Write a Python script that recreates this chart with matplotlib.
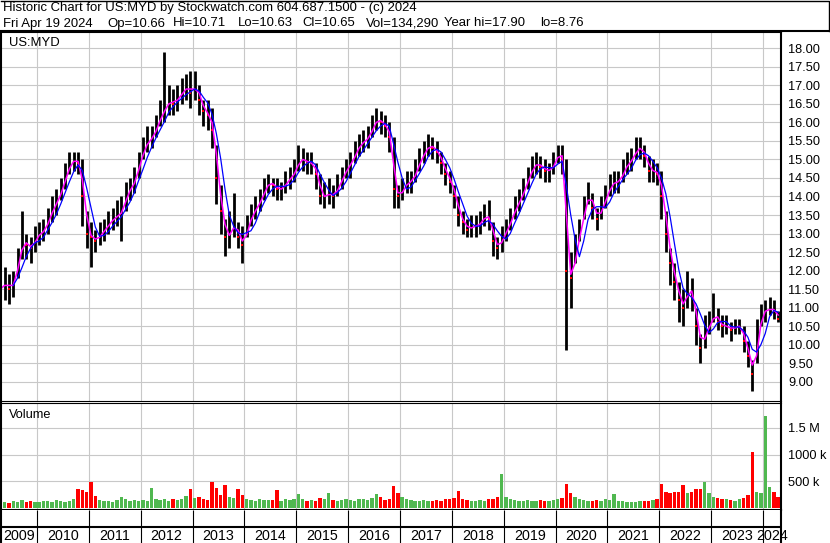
import matplotlib
matplotlib.use("Agg")
import matplotlib.pyplot as plt
import numpy as np
import pandas as pd

plt.rcParams['font.family'] = ['Liberation Sans', 'DejaVu Sans']

# monthly bars, Apr 2009 - Apr 2024
maaneder = pd.period_range('2009-04', '2024-04', freq='M')

close = [11.5, 11.7, 11.5, 11.7, 12.3, 12.8, 12.7, 12.6, 12.9,
         13.0, 13.1, 13.4, 13.7, 13.9, 14.2, 14.6, 14.9, 15.0, 14.9, 14.0, 13.0,
         12.9, 12.8, 13.0, 13.1, 13.3, 13.4, 13.5, 13.6, 14.1, 14.2, 14.5, 14.9,
         15.3, 15.5, 15.6, 15.9, 16.2, 16.4, 16.6, 16.5, 16.7, 16.8, 17.0, 16.8,
         17.0, 16.6, 16.3, 16.2, 15.8, 14.5, 13.6, 12.9, 13.0, 13.3, 12.9, 12.7,
         13.2, 13.5, 13.7, 13.9, 14.2, 14.4, 14.3, 14.2, 14.2, 14.4, 14.5, 14.7,
         15.0, 15.0, 14.9, 14.9, 14.6, 14.0, 14.0, 14.1, 14.0, 14.3, 14.5, 14.8,
         14.9, 15.2, 15.4, 15.5, 15.6, 15.9, 16.1, 16.0, 15.9, 15.6, 14.2, 14.0,
         14.2, 14.4, 14.4, 14.7, 15.0, 15.2, 15.4, 15.3, 15.2, 14.9, 14.6, 14.4,
         14.0, 13.5, 13.3, 13.1, 13.2, 13.2, 13.3, 13.5, 13.4, 12.8, 12.6, 12.9,
         13.1, 13.4, 13.7, 13.9, 14.2, 14.5, 14.8, 14.9, 14.8, 14.7, 14.7, 14.9,
         15.2, 15.0, 12.0, 11.8, 12.6, 13.1, 13.7, 14.1, 13.7, 13.4, 13.7, 14.0,
         14.3, 14.4, 14.4, 14.7, 14.9, 15.0, 15.3, 15.3, 15.1, 14.7, 14.7, 14.6,
         14.0, 13.0, 12.2, 11.7, 11.2, 11.0, 11.6, 11.3, 10.5, 9.9, 10.4, 10.5,
         10.9, 10.6, 10.5, 10.5, 10.4, 10.5, 10.5, 10.1, 9.7, 9.2, 10.2, 10.9,
         10.9, 11.0, 10.9, 10.7]

high = [11.9, 12.1, 11.9, 12.0, 12.6, 13.6, 13.0, 12.9, 13.2,
        13.3, 13.4, 13.7, 14.0, 14.2, 14.5, 14.9, 15.2, 15.2, 15.2, 15.0, 13.6,
        13.3, 13.1, 13.3, 13.4, 13.6, 13.7, 13.9, 14.0, 14.4, 14.5, 14.8, 15.2,
        15.6, 15.9, 15.9, 16.2, 16.6, 17.9, 17.0, 16.9, 17.0, 17.2, 17.3, 17.4,
        17.4, 17.0, 16.6, 16.6, 16.4, 15.4, 14.3, 13.4, 13.6, 14.1, 13.3, 13.2,
        13.5, 13.8, 14.0, 14.2, 14.5, 14.6, 14.5, 14.5, 14.4, 14.7, 14.8, 15.0,
        15.4, 15.3, 15.2, 15.2, 14.9, 14.6, 14.4, 14.5, 14.3, 14.6, 14.8, 15.0,
        15.2, 15.5, 15.7, 15.8, 15.9, 16.2, 16.4, 16.3, 16.2, 16.0, 15.6, 14.3,
        14.5, 14.7, 14.7, 15.0, 15.3, 15.5, 15.7, 15.6, 15.5, 15.2, 14.9, 14.7,
        14.3, 14.0, 13.6, 13.4, 13.5, 13.5, 13.6, 13.8, 13.9, 13.3, 12.9, 13.2,
        13.4, 13.7, 14.0, 14.2, 14.5, 14.8, 15.1, 15.2, 15.1, 15.0, 14.9, 15.2,
        15.4, 15.4, 15.0, 12.5, 13.0, 13.4, 14.0, 14.4, 14.1, 13.7, 14.0, 14.3,
        14.6, 14.7, 14.7, 15.0, 15.2, 15.3, 15.6, 15.6, 15.4, 15.1, 15.0, 14.9,
        14.7, 13.6, 12.6, 12.2, 11.7, 11.5, 12.0, 11.8, 11.0, 10.3, 10.8, 10.9,
        11.4, 11.0, 10.8, 10.8, 10.6, 10.7, 10.7, 10.5, 10.1, 9.6, 10.7, 11.1,
        11.2, 11.3, 11.2, 10.9]

low = [11.0, 11.2, 11.1, 11.3, 11.8, 12.3, 12.3, 12.2, 12.5,
       12.7, 12.8, 13.0, 13.3, 13.5, 13.9, 14.2, 14.6, 14.7, 14.6, 13.2, 12.6,
       12.1, 12.5, 12.7, 12.8, 13.0, 13.1, 13.2, 12.8, 13.6, 13.9, 14.1, 14.5,
       15.0, 15.2, 15.3, 15.6, 15.9, 16.0, 16.2, 16.2, 16.3, 16.5, 16.6, 16.4,
       16.6, 16.2, 15.9, 15.8, 15.3, 13.8, 13.0, 12.4, 12.6, 12.9, 12.6, 12.2,
       12.9, 13.2, 13.4, 13.6, 13.9, 14.1, 14.0, 13.9, 13.9, 14.1, 14.2, 14.4,
       14.7, 14.7, 14.6, 14.6, 14.2, 13.8, 13.7, 13.8, 13.7, 14.0, 14.2, 14.5,
       14.5, 14.9, 15.1, 15.2, 15.3, 15.6, 15.8, 15.7, 15.6, 15.2, 13.7, 13.7,
       13.9, 14.1, 14.1, 14.4, 14.7, 14.9, 15.1, 15.0, 14.9, 14.6, 14.3, 14.1,
       13.7, 13.2, 13.0, 12.9, 12.9, 12.9, 13.0, 13.2, 13.1, 12.4, 12.3, 12.5,
       12.8, 13.1, 13.4, 13.6, 13.9, 14.2, 14.5, 14.6, 14.5, 14.4, 14.4, 14.6,
       14.9, 14.6, 9.85, 11.0, 12.2, 12.8, 13.4, 13.8, 13.4, 13.1, 13.4, 13.7,
       14.0, 14.1, 14.1, 14.4, 14.6, 14.7, 15.0, 15.0, 14.8, 14.4, 14.4, 14.3,
       13.4, 12.5, 11.6, 11.2, 10.6, 10.5, 11.0, 10.9, 10.0, 9.5, 9.9, 10.3,
       10.6, 10.4, 10.2, 10.3, 10.1, 10.3, 10.3, 9.8, 9.4, 8.76, 9.5, 10.5,
       10.6, 10.8, 10.7, 10.6]

# volume in thousands
volum = [170, 120, 100, 130, 110, 150, 120, 130, 110,
         110, 140, 130, 120, 150, 130, 120, 140, 160, 360, 340, 300,
         490, 230, 150, 130, 140, 120, 150, 200, 160, 140, 150, 130,
         150, 140, 380, 160, 150, 170, 140, 160, 150, 170, 220, 360,
         180, 200, 170, 150, 490, 380, 250, 430, 200, 180, 360, 250,
         170, 150, 140, 160, 150, 150, 150, 340, 140, 160, 150, 170,
         260, 160, 140, 150, 130, 180, 160, 280, 150, 140, 150, 160,
         150, 140, 160, 170, 150, 180, 260, 200, 150, 170, 415, 280,
         200, 160, 150, 140, 130, 150, 140, 130, 150, 140, 160, 170,
         180, 320, 160, 150, 140, 130, 150, 140, 160, 170, 200, 640,
         200, 160, 150, 140, 130, 150, 140, 130, 150, 140, 130, 150,
         160, 180, 450, 290, 200, 160, 150, 140, 130, 150, 140, 160,
         150, 260, 140, 130, 120, 110, 120, 130, 140, 130, 150, 160,
         450, 300, 280, 300, 300, 440, 280, 300, 350, 350, 490, 280,
         200, 180, 170, 160, 150, 140, 160, 180, 250, 1040, 300, 280,
         1730, 400, 300, 200]

aar = list(range(2010, 2025))
aar_tekst = [str(a) for a in range(2009, 2025)]
pris_ticks = np.arange(9.0, 18.01, 0.5)
vol_ticks = [500, 1000, 1500]
vol_tekst = ['500 k', '1000 k', '1.5 M']

tittel1 = "Historic Chart for US:MYD by Stockwatch.com 604.687.1500 - (c) 2024"
felt2 = ["Fri Apr 19 2024", "Op=10.66", "Hi=10.71", "Lo=10.63", "Cl=10.65",
         "Vol=134,290", "Year hi=17.90", "lo=8.76"]
felt2_x = [3, 107, 173, 238, 302, 366, 444, 540]

W, H = 830, 543
x_fra, x_til = 2009.306, 2024.346


def boks(x0, y0, x1, y1):
    return [x0 / W, 1 - y1 / H, (x1 - x0) / W, (y1 - y0) / H]


t = np.array(maaneder.year + (maaneder.month - 0.5) / 12)
c = pd.Series(close)
ned = (c.diff() < 0).values
ma_kort = c.rolling(2, min_periods=1).mean()
ma_lang = c.rolling(4).mean()

fig = plt.figure(figsize=(W / 100, H / 100), dpi=100)
grid = '#c8c8c8'

# price panel
ax = fig.add_axes(boks(1, 32, 781, 401))
ax.vlines(t, low, high, color='black', lw=2.0)
ax.plot(t[ned], c[ned], 's', color='red', ms=1.6, mew=0)
ax.plot(t, ma_kort, color='#ff00ff', lw=1.1)
ax.plot(t, ma_lang, color='#0000ff', lw=0.9)
ax.set_xlim(x_fra, x_til)
ax.set_ylim(8.48, 18.44)
ax.set_xticks(aar)
ax.set_xticklabels([])
ax.set_yticks(pris_ticks)
ax.set_yticklabels([f'{v:.2f}' for v in pris_ticks])
ax.yaxis.tick_right()
ax.tick_params(length=0)
ax.tick_params(axis='y', pad=5, labelsize=9.2)
ax.grid(color=grid, lw=0.8)
ax.set_axisbelow(True)
for s in ['top', 'left', 'right']:
    ax.spines[s].set_linewidth(1.5)
ax.spines['bottom'].set_linewidth(0.8)
ax.text(8 / 780, 1 - 14 / 369, 'US:MYD', transform=ax.transAxes, fontsize=9.4, va='baseline')

# volume panel
axv = fig.add_axes(boks(1, 403, 781, 510))
farger = ['#ff0000' if n else '#50b850' for n in ned]
axv.bar(t, volum, width=0.065, color=farger, lw=0)
axv.set_xlim(x_fra, x_til)
axv.set_ylim(-37, 1966)
axv.set_xticks(aar)
axv.set_xticklabels([])
axv.set_yticks(vol_ticks)
axv.set_yticklabels(vol_tekst)
axv.yaxis.tick_right()
axv.tick_params(length=0)
axv.tick_params(axis='y', pad=5, labelsize=9.2)
axv.grid(color=grid, lw=0.8)
axv.set_axisbelow(True)
for s in ['left', 'right']:
    axv.spines[s].set_linewidth(1.5)
axv.spines['top'].set_linewidth(0.8)
axv.spines['bottom'].set_linewidth(1.5)
axv.text(8 / 780, 1 - 15 / 107, 'Volume', transform=axv.transAxes, fontsize=9.2, va='baseline')

# year strip
axy = fig.add_axes(boks(1, 510, 781, 543))
axy.set_xlim(x_fra, x_til)
axy.set_ylim(0, 1)
axy.set_xticks([])
axy.set_yticks([])
axy.vlines(aar, 0, 1, color='black', lw=0.8)
axy.axhline(16 / 33, color='black', lw=1.5)
for s in ['left', 'right']:
    axy.spines[s].set_linewidth(1.5)
axy.spines['top'].set_visible(False)
axy.spines['bottom'].set_visible(False)
grenser = [x_fra] + aar + [x_til]
for i, lab in enumerate(aar_tekst):
    axy.text((grenser[i] + grenser[i + 1]) / 2, 7.5 / 33, lab, ha='center', va='center',
             fontsize=10.3, clip_on=False)

# header box
top = fig.add_axes([0, 0, 1, 1], facecolor='none')
top.set_xlim(0, W)
top.set_ylim(H, 0)
top.axis('off')
top.plot([0.5, 828.5, 828.5], [0.5, 0.5, 31], color='black', lw=1.0)
top.plot([0, 829], [31, 31], color='black', lw=1.5)
top.text(3, 10.5, tittel1, fontsize=9.45, va='baseline')
for tekst, xp in zip(felt2, felt2_x):
    top.text(xp, 26.5, tekst, fontsize=9.45, va='baseline')

fig.savefig('out.png', dpi=100)
